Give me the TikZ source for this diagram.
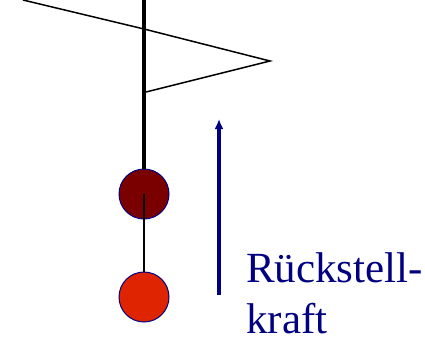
\documentclass[tikz,border=0pt]{standalone}
\usepackage{fontspec}
\setmainfont{Liberation Serif}
\usepackage{xcolor}
\usetikzlibrary{arrows.meta}
\definecolor{kugeldunkel}{RGB}{122,0,0}
\definecolor{kugelrot}{RGB}{222,36,0}
\definecolor{kraftblau}{RGB}{0,0,128}

\begin{document}
\begin{tikzpicture}[x=1pt,y=-1pt,
    kugel/.style={circle,draw=kraftblau,line width=1pt,minimum size=50pt,inner sep=0pt},
    faden/.style={black,line width=1.5pt}]
  \useasboundingbox (0,0) rectangle (425,343);
  % Fahne
  \coordinate (f0) at (23,0);
  \coordinate (f1) at (144,29);
  \coordinate (f2) at (270,61);
  \coordinate (f3) at (146,92);
  \draw[faden,line join=miter] (f0) -- (f1) -- (f2) -- (f3);
  % Pendel
  \coordinate (oben) at (144,0);
  \node[kugel,fill=kugeldunkel] (k1) at (144,194) {};
  \node[kugel,fill=kugelrot] (k2) at (144,297) {};
  \draw[black,line width=3.5pt] (oben) -- (k1.north);
  \draw[faden] (k1.center) -- (k2.north);
  % Kraftpfeil
  \coordinate (p0) at (219,295);
  \coordinate (p1) at (219,119);
  \draw[kraftblau,line width=3.5pt,-{Latex[length=10pt,width=9pt]}] (p0) -- (p1);
  \node[anchor=base west,inner sep=0pt,text=kraftblau,align=left,
    font=\fontsize{43}{51}\selectfont] (txt) at (246,333) {Rückstell-\\kraft};
\end{tikzpicture}
\end{document}
